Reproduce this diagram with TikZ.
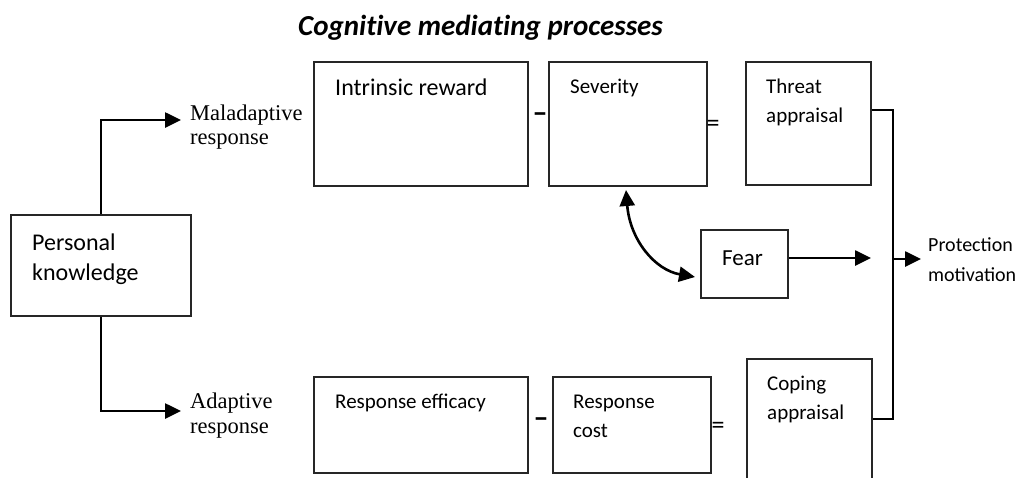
\documentclass[tikz,border=0pt]{standalone}
\usepackage{fontspec}
\setmainfont{Carlito}
\newfontfamily\titlefont{Carlito}[Ligatures=NoCommon]
\newfontfamily\tnr{Liberation Serif}
\usetikzlibrary{arrows.meta,calc}
\begin{document}
\begin{tikzpicture}[x=1pt,y=-1pt,
  box/.style={draw=black!85, line width=1.5pt, inner sep=0pt},
  lbl/.style={anchor=base west, inner sep=0pt, font=\fontsize{21}{25}\selectfont},
  blbl/.style={anchor=base west, inner sep=0pt, font=\fontsize{24}{28}\selectfont},
  slbl/.style={anchor=base west, inner sep=0pt, font=\tnr\fontsize{22.5}{26}\selectfont},
  conn/.style={draw=black, line width=2.6pt},
  arr/.style={conn, -{Triangle[length=16pt,width=15pt]}},
  darr/.style={conn, {Triangle[length=16pt,width=15pt]}-{Triangle[length=16pt,width=15pt]}},
  op/.style={inner sep=0pt, font=\fontsize{26}{30}\selectfont},
  mop/.style={inner sep=0pt, font=\bfseries\fontsize{30}{34}\selectfont}]
\useasboundingbox (0,0) rectangle (1024,477);
\clip (0,0) rectangle (1024,477);
% title
\node[anchor=base west, inner sep=0pt, font=\titlefont\fontsize{29}{33}\selectfont\bfseries\itshape] (title) at (298,35) {Cognitive mediating processes};
% boxes
\node[box, minimum width=180pt, minimum height=101pt] (pk) at (101,265.5) {};
\node[box, minimum width=214pt, minimum height=124pt] (ir) at (421,124) {};
\node[box, minimum width=158pt, minimum height=124pt] (sev) at (628,124) {};
\node[box, minimum width=125pt, minimum height=123pt] (ta) at (808.5,123.5) {};
\node[box, minimum width=87pt, minimum height=68pt] (fear) at (744.5,264) {};
\node[box, minimum width=214pt, minimum height=96pt] (re) at (421,425) {};
\node[box, minimum width=158pt, minimum height=96pt] (rc) at (632,425) {};
\node[box, minimum width=125pt, minimum height=122pt] (ca) at (809.5,420) {};
% texts in boxes
\node[blbl] (tpk1) at (32,250) {Personal};
\node[blbl] (tpk2) at (32,280) {knowledge};
\node[blbl] (tir) at (335,95) {Intrinsic reward};
\node[lbl] (tsev) at (570,93) {Severity};
\node[lbl] (tta1) at (766,93) {Threat};
\node[lbl] (tta2) at (766,122) {appraisal};
\node[anchor=base west, inner sep=0pt, font=\fontsize{23}{27}\selectfont] (tfear) at (722,265) {Fear};
\node[lbl] (tre) at (335,408) {Response efficacy};
\node[lbl] (trc1) at (573,408) {Response};
\node[lbl] (trc2) at (573,437) {cost};
\node[lbl] (tca1) at (767,390) {Coping};
\node[lbl] (tca2) at (767,419) {appraisal};
\node[anchor=base west, inner sep=0pt, font=\fontsize{20}{24}\selectfont] (tpm1) at (928,251) {Protection};
\node[anchor=base west, inner sep=0pt, font=\fontsize{20}{24}\selectfont] (tpm2) at (928,281) {motivation};
% serif labels
\node[slbl] (tmal1) at (190,120) {Maladaptive};
\node[slbl] (tmal2) at (190,144) {response};
\node[slbl] (tada1) at (190,408) {Adaptive};
\node[slbl] (tada2) at (190,433) {response};
% operators
\node[mop] (m1) at (540,118) {–};
\node[op] (e1) at (713,126) {=};
\node[mop] (m2) at (541,423) {–};
\node[op] (e2) at (718,428) {=};
% connectors
\coordinate (maltip) at (181,120);
\coordinate (adatip) at (181,411);
\draw[arr] (pk.north) |- (maltip);
\draw[arr] (pk.south) |- (adatip);
\coordinate (bt) at (893,110);
\coordinate (bb) at (893,419);
\coordinate (bm) at (893,259);
\draw[conn] (ta.east |- bt) -- (bt) -- (bb) -- (ca.east |- bb);
\coordinate (pmtip) at (921,259);
\draw[arr] (bm) -- (pmtip);
\coordinate (feartip) at (871,258);
\draw[arr] (fear.east |- feartip) -- (feartip);
\coordinate (cA) at (626,190);
\coordinate (cB) at (695,277);
\draw[darr] (cA) .. controls (630,240) and (655,270) .. (cB);
\end{tikzpicture}
\end{document}
